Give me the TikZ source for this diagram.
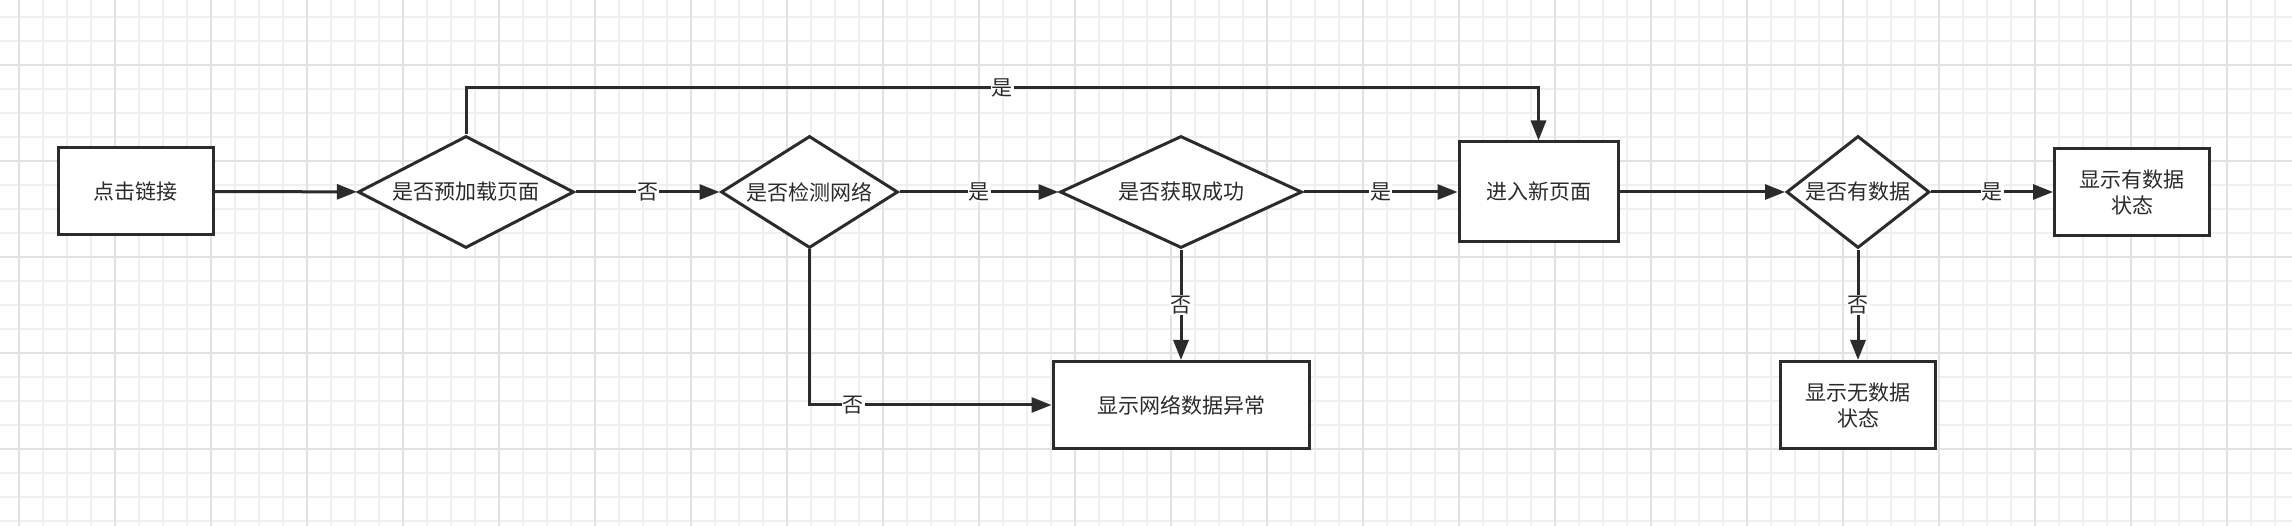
\documentclass[tikz,border=0pt]{standalone}
\usepackage{fontspec}
\newfontfamily\cjk{Noto Sans CJK SC}
\usetikzlibrary{arrows.meta,shapes.geometric}
\definecolor{ink}{HTML}{2B2B2B}
\definecolor{gridminor}{HTML}{EFEFEF}
\definecolor{gridmajor}{HTML}{E2E2E2}
\begin{document}
\begin{tikzpicture}[x=1pt,y=-1pt,
  every node/.style={font=\cjk\fontsize{21}{26}\selectfont, text=ink},
  box/.style={draw=ink, line width=3pt, fill=white, rectangle, inner sep=0pt, align=center},
  dec/.style={draw=ink, line width=3pt, fill=white, diamond, inner sep=0pt},
  link/.style={draw=ink, line width=3pt, -{Triangle[length=20pt,width=15pt]}},
  lbl/.style={fill=white, inner sep=1pt}]
\fill[white] (0,0) rectangle (2292,526);
\useasboundingbox (0,0) rectangle (2292,526);
\foreach \x in {19,43,...,2292} \draw[gridminor, line width=1.8pt] (\x,0) -- (\x,526);
\foreach \y in {17,41,...,526} \draw[gridminor, line width=1.8pt] (0,\y) -- (2292,\y);
\foreach \x in {19,115,...,2292} \draw[gridmajor, line width=2.2pt] (\x,0) -- (\x,526);
\foreach \y in {65,161,...,526} \draw[gridmajor, line width=2.2pt] (0,\y) -- (2292,\y);

\node[box, minimum width=155pt, minimum height=87pt] (a) at (135.5,191.5) {点击链接};
\node[dec, minimum width=216pt, minimum height=112pt, aspect=1.93] (d1) at (466,192) {是否预加载页面};
\node[dec, minimum width=177pt, minimum height=112pt, aspect=1.58] (d2) at (809.5,192) {是否检测网络};
\node[dec, minimum width=242pt, minimum height=112pt, aspect=2.16] (d3) at (1181,192) {是否获取成功};
\node[box, minimum width=159pt, minimum height=100pt] (b) at (1538.5,192) {进入新页面};
\node[dec, minimum width=143pt, minimum height=112pt, aspect=1.28] (d4) at (1858,192) {是否有数据};
\node[box, minimum width=155pt, minimum height=87pt] (c) at (2132,192) {显示有数据\\状态};
\node[box, minimum width=155pt, minimum height=87pt] (e) at (1858,405) {显示无数据\\状态};
\node[box, minimum width=256pt, minimum height=87pt] (f) at (1181,405) {显示网络数据异常};

\coordinate (t1) at (466,88);
\coordinate (t2) at (1538.5,88);

\draw[link] (a) -- (d1);
\draw[link] (d1) -- node[lbl]{否} (d2);
\draw[link] (d2) -- node[lbl]{是} (d3);
\draw[link] (d3) -- node[lbl]{是} (b);
\draw[link] (b) -- (d4);
\draw[link] (d4) -- node[lbl]{是} (c);
\draw[link] (d3) -- node[lbl]{否} (f);
\draw[link] (d4) -- node[lbl]{否} (e);
\draw[link] (d1.north) -- (t1) -- node[lbl]{是} (t2) -- (b.north);
\draw[link] (d2.south) |- node[lbl, pos=0.59]{否} (f.west);
\end{tikzpicture}
\end{document}
